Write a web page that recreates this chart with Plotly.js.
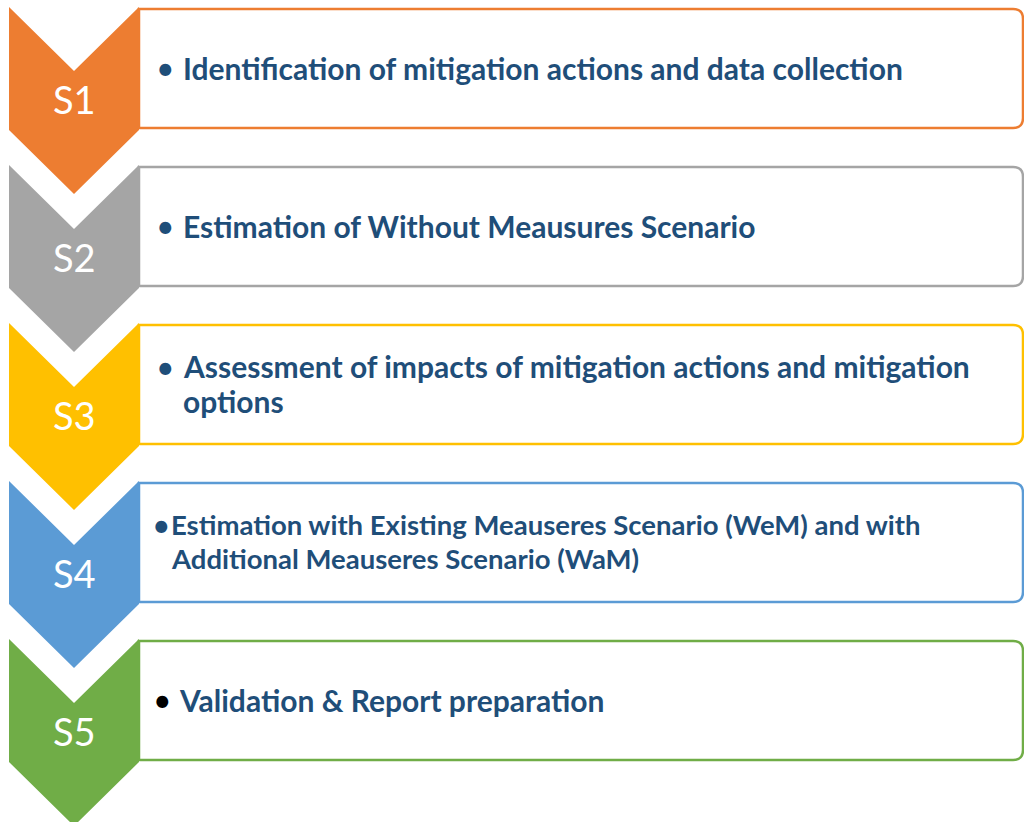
<!DOCTYPE html>
<html><head><meta charset="utf-8">
<script src="https://cdn.plot.ly/plotly-3.0.1.min.js"></script>
<style>html,body{margin:0;padding:0;background:#fff}#chart{width:1024px;height:822px}</style>
</head><body><div id="chart"></div>
<script>
// Data
const stepLabels = ["S1", "S2", "S3", "S4", "S5"];
const stepColors = ["#ED7D31", "#A5A5A5", "#FFC000", "#5B9BD5", "#70AD47"];
const stepTexts = [
  ["Identification of mitigation actions and data collection"],
  ["Estimation of Without Meausures Scenario"],
  ["Assessment of impacts of mitigation actions and mitigation", "options"],
  ["Estimation with Existing Meauseres Scenario (WeM) and with", "Additional Meauseres Scenario (WaM)"],
  ["Validation & Report preparation"]
];
const bulletColors = ["#1F4E79", "#1F4E79", "#1F4E79", "#1F4E79", "#000000"];

// Layout constants
const period = 158, top0 = 7, chevL = 9, chevR = 139, depth = 64, bodyH = 123;
const rectR = 1023, radius = 10;
const textColor = "#1F4E79";
const bulletX = [165, 165, 165, 161, 162];
const textX = [181, 181, 181, 169, 177];
const fontSizes = [30, 30, 30, 27.5, 30];
const lineGap = 34.5;

const shapes = [], annotations = [];
stepLabels.forEach((lab, i) => {
  const t = top0 + i * period;
  const cx = (chevL + chevR) / 2;
  const rt = t + 2, rb = t + bodyH - 2;
  shapes.push({
    type: "path", layer: "below",
    path: `M ${chevR},${rt} L ${rectR - radius},${rt} Q ${rectR},${rt} ${rectR},${rt + radius} L ${rectR},${rb - radius} Q ${rectR},${rb} ${rectR - radius},${rb} L ${chevR},${rb} Z`,
    fillcolor: "#FFFFFF", line: {color: stepColors[i], width: 2.5}
  });
  shapes.push({
    type: "path",
    path: `M ${chevL},${t} L ${cx},${t + depth} L ${chevR},${t} L ${chevR},${t + bodyH} L ${cx},${t + bodyH + depth} L ${chevL},${t + bodyH} Z`,
    fillcolor: stepColors[i], line: {width: 0}
  });
  annotations.push({
    x: cx, y: t + 92, xref: "x", yref: "y", text: lab, showarrow: false,
    xanchor: "center", yanchor: "middle",
    font: {family: "Lato, 'Open Sans', sans-serif", size: 38, color: "#FFFFFF"}
  });
  const lines = stepTexts[i];
  const firstY = lines.length > 1 ? t + 43 : t + 60.5;
  annotations.push({
    x: bulletX[i], y: firstY, xref: "x", yref: "y", text: "•", showarrow: false,
    xanchor: "center", yanchor: "middle",
    font: {family: "Lato, sans-serif", size: 32, color: bulletColors[i]}
  });
  lines.forEach((ln, k) => {
    annotations.push({
      x: textX[i], y: firstY + k * lineGap, xref: "x", yref: "y",
      text: "<b>" + ln + "</b>", showarrow: false,
      xanchor: "left", yanchor: "middle", align: "left",
      font: {family: "Lato, sans-serif", size: fontSizes[i], color: textColor}
    });
  });
});

const layout = {
  width: 1024, height: 822,
  margin: {l: 0, r: 0, t: 0, b: 0},
  paper_bgcolor: "#FFFFFF", plot_bgcolor: "#FFFFFF",
  xaxis: {range: [0, 1024], visible: false, fixedrange: true},
  yaxis: {range: [822, 0], visible: false, fixedrange: true},
  showlegend: false,
  shapes: shapes, annotations: annotations
};
Plotly.newPlot("chart", [{x: [], y: [], type: "scatter", mode: "markers", hoverinfo: "skip"}], layout, {staticPlot: true});
</script></body></html>
